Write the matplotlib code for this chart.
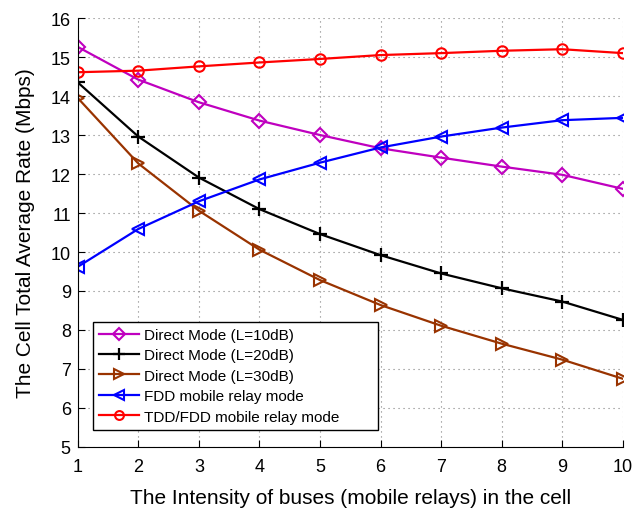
import matplotlib
matplotlib.use("Agg")
import matplotlib.pyplot as plt

plt.rcParams['font.family'] = ['Liberation Sans', 'DejaVu Sans']

x = [1, 2, 3, 4, 5, 6, 7, 8, 9, 10]
direct_10 = [15.26, 14.42, 13.84, 13.37, 13.00, 12.66, 12.42, 12.19, 11.98, 11.62]
direct_20 = [14.35, 12.96, 11.91, 11.10, 10.46, 9.92, 9.45, 9.07, 8.73, 8.26]
direct_30 = [13.95, 12.27, 11.06, 10.06, 9.28, 8.64, 8.11, 7.65, 7.24, 6.75]
fdd_relay = [9.62, 10.59, 11.30, 11.86, 12.29, 12.68, 12.96, 13.19, 13.38, 13.44]
tdd_relay = [14.61, 14.65, 14.76, 14.86, 14.95, 15.05, 15.10, 15.16, 15.20, 15.10]

fig = plt.figure(figsize=(6.44, 5.10), dpi=100)
ax = fig.add_axes([0.1207, 0.1216, 0.8463, 0.8411])

lw = 1.6
ax.plot(x, direct_10, color="#BF00BF", marker="D", ms=7, mfc="none", mew=1.5, lw=lw,
        label="Direct Mode (L=10dB)")
ax.plot(x, direct_20, color="black", marker="+", ms=10, mew=1.6, lw=lw,
        label="Direct Mode (L=20dB)")
ax.plot(x, direct_30, color="#993300", marker=">", ms=9, mfc="none", mew=1.5, lw=lw,
        label="Direct Mode (L=30dB)")
ax.plot(x, fdd_relay, color="blue", marker="<", ms=9, mfc="none", mew=1.5, lw=lw,
        label="FDD mobile relay mode")
ax.plot(x, tdd_relay, color="red", marker="o", ms=7.5, mfc="none", mew=1.5, lw=lw,
        label="TDD/FDD mobile relay mode")

ax.set_xlim(1, 10)
ax.set_ylim(5, 16)
ax.set_xticks(range(1, 11))
ax.set_yticks(range(5, 17))
ax.tick_params(direction="in", labelsize=13, length=5)
ax.tick_params(axis="x", pad=8)
ax.tick_params(axis="y", pad=5)
ax.grid(True, linestyle=(0, (1, 3.5)), color="gray", lw=0.8)
ax.spines["top"].set_visible(False)
ax.spines["right"].set_visible(False)

ax.set_xlabel("The Intensity of buses (mobile relays) in the cell", fontsize=15, labelpad=9)
ax.set_ylabel("The Cell Total Average Rate (Mbps)", fontsize=15, labelpad=11)

leg = ax.legend(loc="lower left", bbox_to_anchor=(0.0286, 0.0403, 0.522, 0.249),
                mode="expand", fontsize=11, frameon=True, fancybox=False,
                edgecolor="black", framealpha=1, borderaxespad=0,
                handlelength=2.6, labelspacing=0.42, handletextpad=0.35,
                borderpad=0.4, markerscale=0.85)
leg.get_frame().set_linewidth(1.0)

fig.savefig("out.png", dpi=100)
